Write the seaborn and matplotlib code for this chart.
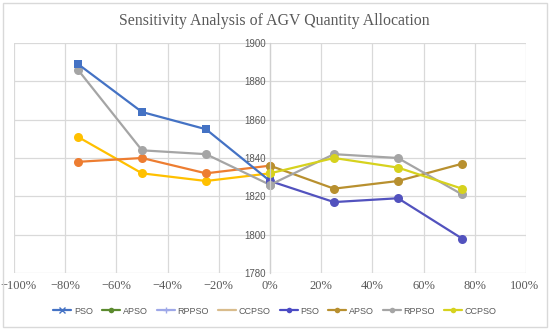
import numpy as np
import pandas as pd
import matplotlib
matplotlib.use("Agg")
import matplotlib.pyplot as plt
import seaborn as sns
from matplotlib.ticker import FuncFormatter
from matplotlib.lines import Line2D
from matplotlib.patches import Rectangle
import matplotlib.transforms as mtransforms

# ---- data ----
x_left = [-0.75, -0.50, -0.25, 0.0]
x_right = [0.0, 0.25, 0.50, 0.75]
series = ["PSO", "APSO", "RPPSO", "CCPSO"]
pso = [1889, 1864, 1855, 1828, 1817, 1819, 1798]
apso = [1838, 1840, 1832, 1836, 1824, 1828, 1837]
rppso = [1886, 1844, 1842, 1826, 1842, 1840, 1821]
ccpso = [1851, 1832, 1828, 1832, 1840, 1835, 1824]
x_ticks = [-1.0, -0.8, -0.6, -0.4, -0.2, 0.0, 0.2, 0.4, 0.6, 0.8, 1.0]
y_ticks = [1780, 1800, 1820, 1840, 1860, 1880, 1900]

values = {"PSO": pso, "APSO": apso, "RPPSO": rppso, "CCPSO": ccpso}

rows = []
for s in series:
    v = values[s]
    for xi, yi in zip(x_left, v[:4]):
        rows.append(dict(x=xi, y=yi, series=s, half="L"))
    for xi, yi in zip(x_right, v[3:]):
        rows.append(dict(x=xi, y=yi, series=s, half="R"))
df = pd.DataFrame(rows)

# drawn colors
left_col = {"PSO": "#4472C4", "APSO": "#ED7D31", "RPPSO": "#A5A5A5", "CCPSO": "#FFC000"}
right_col = {"PSO": "#5252BE", "APSO": "#B8902F", "RPPSO": "#A5A5A5", "CCPSO": "#D6D21E"}
left_mk = {"PSO": "s", "APSO": "o", "RPPSO": "o", "CCPSO": "o"}
# legend colors (as shown in reference legend)
leg_first = [("#4472C4", "x"), ("#5B8A2E", "o"), ("#9EA8E8", "+"), ("#D9BC8C", None)]
leg_second = [("#4B4BC4", "o"), ("#B8902F", "o"), ("#A5A5A5", "o"), ("#D6D21E", "o")]

sns.set_theme(style="white")
plt.rcParams["font.family"] = ["Liberation Sans", "DejaVu Sans"]

fig = plt.figure(figsize=(5.5, 3.3), dpi=100)
ax = fig.add_axes([14 / 550, 1 - 273 / 330, 512 / 550, 230 / 330])

# draw order: left halves then right halves
for s in ["CCPSO", "APSO", "RPPSO", "PSO"]:
    d = df[(df.series == s) & (df.half == "L")]
    sns.lineplot(data=d, x="x", y="y", ax=ax, color=left_col[s], marker=left_mk[s],
                 markersize=5.5 if s == "PSO" else 6.5, markeredgewidth=0, linewidth=1.6,
                 legend=False, sort=False)
for s in ["PSO", "APSO", "RPPSO", "CCPSO"]:
    d = df[(df.series == s) & (df.half == "R")]
    sns.lineplot(data=d, x="x", y="y", ax=ax, color=right_col[s], marker="o",
                 markersize=6.5, markeredgewidth=0, linewidth=1.6, legend=False, sort=False)

ax.set_xlim(-1.0, 1.0)
ax.set_ylim(1780, 1900)
ax.set_xticks(x_ticks)
ax.set_yticks(y_ticks)
ax.xaxis.set_major_formatter(FuncFormatter(lambda v, p: f"{v*100:.0f}%".replace("-", "\u2212")))
ax.grid(True, color="#D9D9D9", linewidth=0.9)
ax.set_axisbelow(True)
for sp in ["top", "right", "bottom"]:
    ax.spines[sp].set_visible(False)
ax.spines["left"].set_position(("data", 0))
ax.spines["left"].set_color("#D0D0D0")
ax.spines["left"].set_linewidth(0.9)
ax.tick_params(axis="both", length=0)
ax.tick_params(axis="y", pad=3, labelsize=7, labelcolor="#595959")
ax.tick_params(axis="x", pad=5, labelsize=9, labelcolor="#595959")
xlabs = ax.get_xticklabels()
for lab in xlabs:
    lab.set_family(["Liberation Serif", "DejaVu Serif"])
# keep end labels inside the figure
xlabs[0].set_transform(xlabs[0].get_transform() +
                       mtransforms.ScaledTranslation(4 / 100, 0, fig.dpi_scale_trans))
xlabs[-1].set_transform(xlabs[-1].get_transform() +
                        mtransforms.ScaledTranslation(-2 / 100, 0, fig.dpi_scale_trans))
ax.set_xlabel("")
ax.set_ylabel("")

fig.text(274 / 550, 1 - 21 / 330, "Sensitivity Analysis of AGV Quantity Allocation",
         fontsize=11.4, color="#595959", family=["Liberation Serif", "DejaVu Serif"],
         ha="center", va="center")

handles = []
for (c, m) in leg_first + leg_second:
    handles.append(Line2D([0], [0], color=c, marker=m if m else None, markersize=4,
                          markeredgewidth=1 if m in ("x", "+") else 0, linewidth=1.6))
labels = series + series
fig.legend(handles, labels, loc="center", bbox_to_anchor=(275 / 550, 1 - 311 / 330), ncol=8,
           frameon=False, fontsize=6.5, handlelength=2.0, handletextpad=0.3,
           columnspacing=1.0, labelcolor="#595959", borderpad=0.2)

fig.add_artist(Rectangle((3 / 550, 3 / 330), 544 / 550, 324 / 330, transform=fig.transFigure,
                         fill=False, edgecolor="#D9D9D9", linewidth=1))

fig.savefig("out.png", dpi=100)
